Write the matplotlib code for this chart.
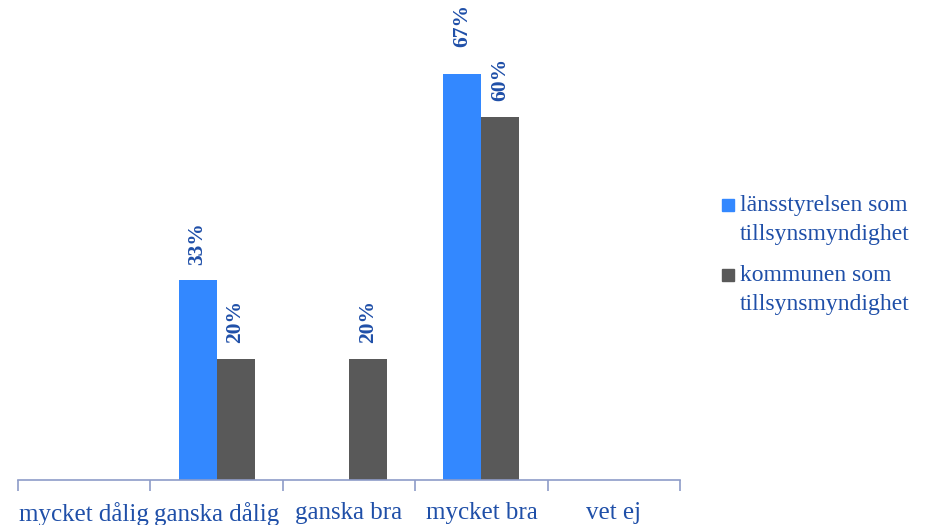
import numpy as np
from matplotlib import pyplot as plt
from matplotlib.patches import Rectangle

categories = ["mycket dålig", "ganska dålig", "ganska bra", "mycket bra", "vet ej"]
lansstyrelsen = [0, 33, 0, 67, 0]
kommunen = [0, 20, 20, 60, 0]
series_names = ["länsstyrelsen som\ntillsynsmyndighet", "kommunen som\ntillsynsmyndighet"]

blue = "#3388FF"
gray = "#595959"
text_col = "#1F4FA8"
axis_col = "#8E9CC8"

plt.rcParams['font.family'] = ['Liberation Serif', 'DejaVu Serif']

W, H = 927, 525
fig = plt.figure(figsize=(W / 100, H / 100), dpi=100)
ax = fig.add_axes([18 / W, 45 / H, 662 / W, 480 / H])

x = np.arange(len(categories))
w = 0.287
for vals, off, col in [(lansstyrelsen, -w / 2, blue), (kommunen, w / 2, gray)]:
    for xi, v in zip(x, vals):
        if v == 0:
            continue
        ax.bar(xi + off, v, width=w, color=col)
        # the tallest label sits a bit higher in the original
        gap = 4.5 if v == max(lansstyrelsen) else 2.6
        ax.text(xi + off, v + gap, f"{v}%", rotation=90, ha='center', va='bottom',
                color=text_col, fontsize=15.5, fontweight='bold')

ax.set_xlim(-0.5, len(categories) - 0.5)
ax.set_ylim(0, 79.3)
for s in ['top', 'right', 'left']:
    ax.spines[s].set_visible(False)
ax.spines['bottom'].set_color(axis_col)
ax.spines['bottom'].set_linewidth(1.2)
ax.set_yticks([])
ax.set_xticks(np.arange(-0.5, len(categories), 1.0))
ax.set_xticklabels([])
ax.set_xticks(x, minor=True)
ax.set_xticklabels(categories, minor=True, fontsize=18, color=text_col)
ax.tick_params(axis='x', which='major', length=8, color=axis_col, width=1.2)
ax.tick_params(axis='x', which='minor', length=0, pad=16)

# legend drawn by hand so the line spacing matches
for i, (name, col) in enumerate(zip(series_names, (blue, gray))):
    yc = 220 + 70 * i
    fig.add_artist(Rectangle((722 / W, (H - yc + 9) / H), 12 / W, 12 / H,
                             transform=fig.transFigure, color=col))
    fig.text(740 / W, (H - yc) / H, name, ha='left', va='center', fontsize=17,
             color=text_col, linespacing=1.55)

plt.savefig("out.png", dpi=100)
